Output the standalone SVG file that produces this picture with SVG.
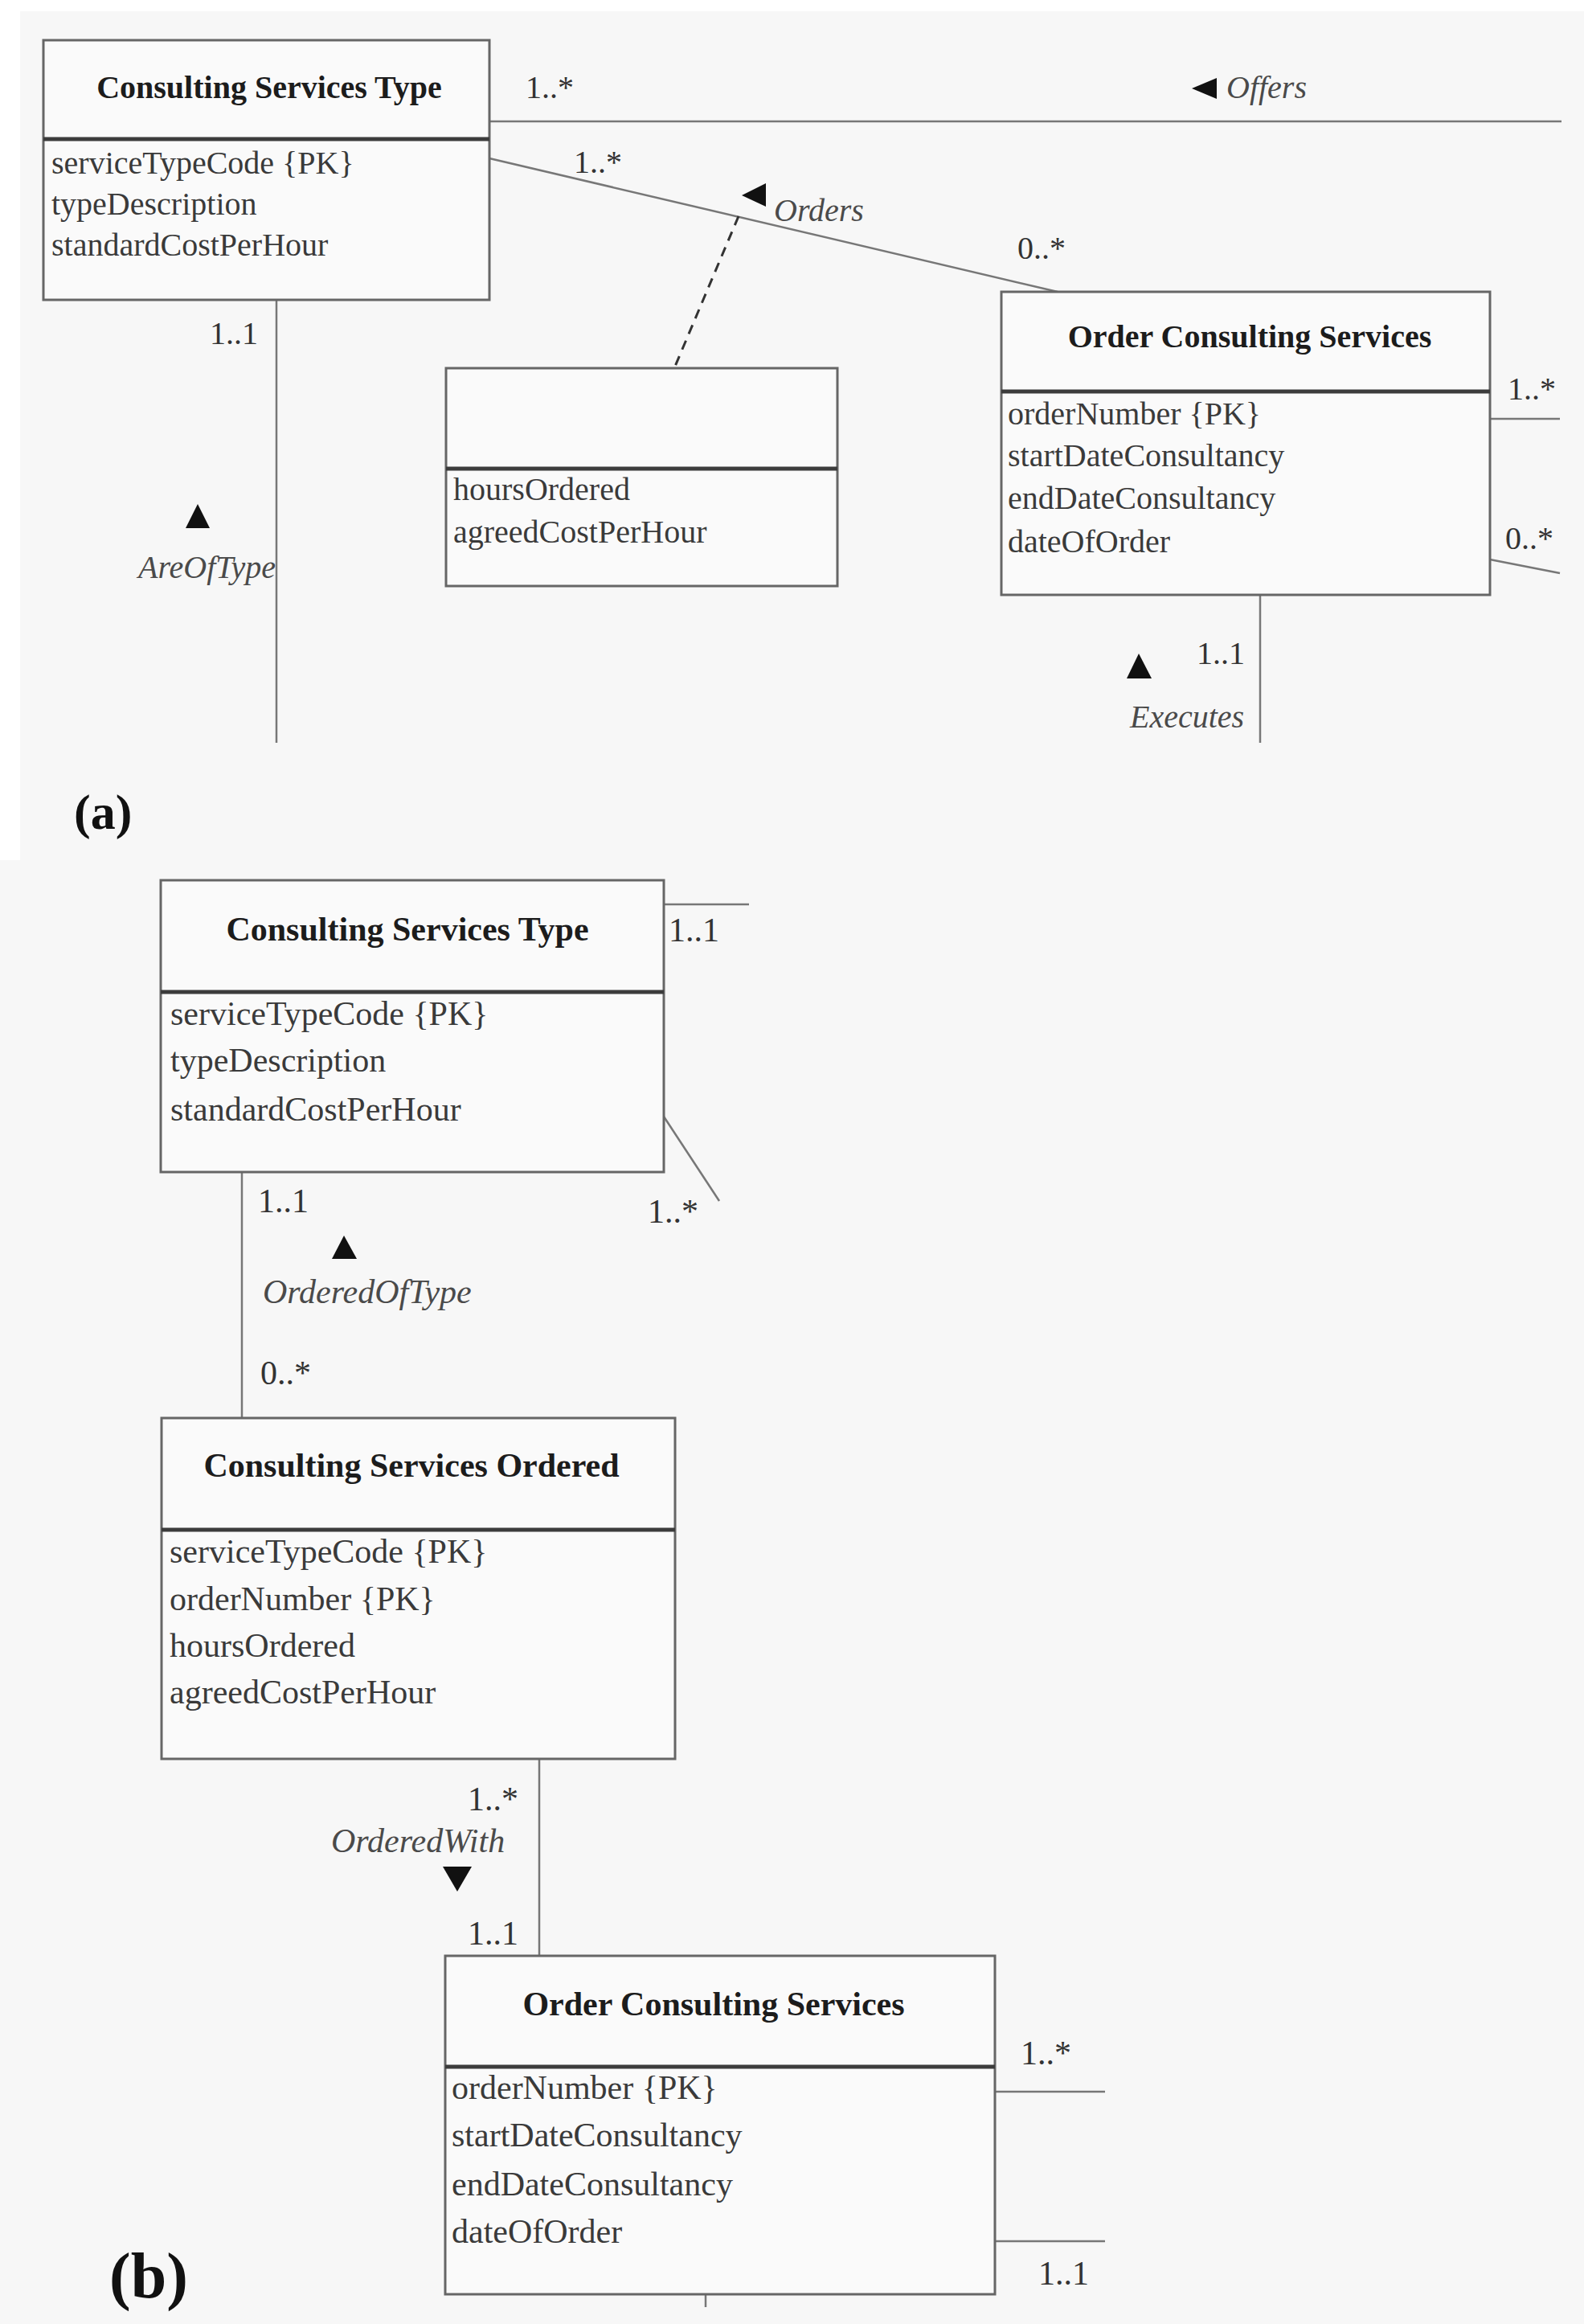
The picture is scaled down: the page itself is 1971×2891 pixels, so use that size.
<svg xmlns="http://www.w3.org/2000/svg" width="1971" height="2891" viewBox="0 0 1971 2891">
  <style>
    .box { fill: #fafafa; stroke: #666; stroke-width: 3; }
    .div { stroke: #3c3c3c; stroke-width: 5; }
    .ln { stroke: #777; stroke-width: 2.5; fill: none; }
    .dash { stroke: #333; stroke-width: 3; stroke-dasharray: 12 9; fill: none; }
    .tri { fill: #111; }
    .t { font-family: "Liberation Serif", "Times New Roman", serif; }
    .title { font-weight: bold; fill: #1c1c1c; text-anchor: middle; }
    .attr { fill: #3a3a3a; }
    .lbl { font-style: italic; fill: #4a4a4a; }
    .mul { fill: #333; }
    .a { font-size: 40px; }
    .b { font-size: 42px; }
    .cap { font-weight: bold; fill: #111; }
  </style>

  <!-- page background -->
  <rect x="0" y="0" width="1971" height="2891" fill="#f7f7f7"/>
  <rect x="0" y="0" width="1971" height="14" fill="#ffffff"/>
  <rect x="0" y="0" width="25" height="1070" fill="#ffffff"/>

  <!-- ===== (a) ===== -->
  <g id="connectors-a">
    <line class="ln" x1="609" y1="151" x2="1943" y2="151"/>
    <line class="ln" x1="609" y1="197" x2="1316" y2="363"/>
    <line class="dash" x1="919" y1="269" x2="839" y2="458"/>
    <line class="ln" x1="344" y1="373" x2="344" y2="924"/>
    <line class="ln" x1="1568" y1="740" x2="1568" y2="924"/>
    <line class="ln" x1="1854" y1="521" x2="1941" y2="521"/>
    <line class="ln" x1="1854" y1="696" x2="1941" y2="713"/>
    <polygon class="tri" points="1483,110 1514,97 1514,123"/>
    <polygon class="tri" points="923,243 953,228 953,257"/>
    <polygon class="tri" points="246,627 231,657 261,657"/>
    <polygon class="tri" points="1417,813 1402,844 1433,844"/>
    <g class="t a">
      <text class="mul" x="654" y="122">1..*</text>
      <text class="lbl" x="1526" y="122">Offers</text>
      <text class="mul" x="714" y="215">1..*</text>
      <text class="lbl" x="963" y="275">Orders</text>
      <text class="mul" x="1266" y="322">0..*</text>
      <text class="mul" x="261" y="428">1..1</text>
      <text class="lbl" x="172" y="719">AreOfType</text>
      <text class="mul" x="1876" y="497">1..*</text>
      <text class="mul" x="1873" y="683">0..*</text>
      <text class="mul" x="1489" y="826">1..1</text>
      <text class="lbl" x="1406" y="905">Executes</text>
    </g>
  </g>

  <g id="a-consulting-services-type" class="t a">
    <rect class="box" x="54" y="50" width="555" height="323"/>
    <line class="div" x1="54" y1="173" x2="609" y2="173"/>
    <text class="title" x="335" y="122">Consulting Services Type</text>
    <text class="attr" x="64" y="216">serviceTypeCode {PK}</text>
    <text class="attr" x="64" y="267">typeDescription</text>
    <text class="attr" x="64" y="318">standardCostPerHour</text>
  </g>

  <g id="a-association-class" class="t a">
    <rect class="box" x="555" y="458" width="487" height="271"/>
    <line class="div" x1="555" y1="583" x2="1042" y2="583"/>
    <text class="attr" x="564" y="622">hoursOrdered</text>
    <text class="attr" x="564" y="675">agreedCostPerHour</text>
  </g>

  <g id="a-order-consulting-services" class="t a">
    <rect class="box" x="1246" y="363" width="608" height="377"/>
    <line class="div" x1="1246" y1="487" x2="1854" y2="487"/>
    <text class="title" x="1555" y="432">Order Consulting Services</text>
    <text class="attr" x="1254" y="528">orderNumber {PK}</text>
    <text class="attr" x="1254" y="580">startDateConsultancy</text>
    <text class="attr" x="1254" y="633">endDateConsultancy</text>
    <text class="attr" x="1254" y="687">dateOfOrder</text>
  </g>

  <text class="t cap" x="92" y="1031" font-size="62">(a)</text>

  <!-- ===== (b) ===== -->
  <g id="connectors-b">
    <line class="ln" x1="826" y1="1125" x2="932" y2="1125"/>
    <line class="ln" x1="826" y1="1389" x2="895" y2="1494"/>
    <line class="ln" x1="301" y1="1458" x2="301" y2="1764"/>
    <line class="ln" x1="671" y1="2188" x2="671" y2="2433"/>
    <line class="ln" x1="1238" y1="2602" x2="1375" y2="2602"/>
    <line class="ln" x1="1238" y1="2788" x2="1375" y2="2788"/>
    <line class="ln" x1="878" y1="2854" x2="878" y2="2870"/>
    <polygon class="tri" points="428,1537 413,1566 444,1566"/>
    <polygon class="tri" points="551,2322 587,2322 569,2353"/>
    <g class="t b">
      <text class="mul" x="832" y="1171">1..1</text>
      <text class="mul" x="806" y="1521">1..*</text>
      <text class="mul" x="321" y="1508">1..1</text>
      <text class="lbl" x="327" y="1621">OrderedOfType</text>
      <text class="mul" x="324" y="1722">0..*</text>
      <text class="mul" x="582" y="2252">1..*</text>
      <text class="lbl" x="412" y="2304">OrderedWith</text>
      <text class="mul" x="582" y="2419">1..1</text>
      <text class="mul" x="1270" y="2568">1..*</text>
      <text class="mul" x="1292" y="2842">1..1</text>
    </g>
  </g>

  <g id="b-consulting-services-type" class="t b">
    <rect class="box" x="200" y="1095" width="626" height="363"/>
    <line class="div" x1="200" y1="1234" x2="826" y2="1234"/>
    <text class="title" x="507" y="1170">Consulting Services Type</text>
    <text class="attr" x="212" y="1275">serviceTypeCode {PK}</text>
    <text class="attr" x="212" y="1333">typeDescription</text>
    <text class="attr" x="212" y="1394">standardCostPerHour</text>
  </g>

  <g id="b-consulting-services-ordered" class="t b">
    <rect class="box" x="201" y="1764" width="639" height="424"/>
    <line class="div" x1="201" y1="1903" x2="840" y2="1903"/>
    <text class="title" x="512" y="1837">Consulting Services Ordered</text>
    <text class="attr" x="211" y="1944">serviceTypeCode {PK}</text>
    <text class="attr" x="211" y="2003">orderNumber {PK}</text>
    <text class="attr" x="211" y="2061">hoursOrdered</text>
    <text class="attr" x="211" y="2119">agreedCostPerHour</text>
  </g>

  <g id="b-order-consulting-services" class="t b">
    <rect class="box" x="554" y="2433" width="684" height="421"/>
    <line class="div" x1="554" y1="2571" x2="1238" y2="2571"/>
    <text class="title" x="888" y="2507">Order Consulting Services</text>
    <text class="attr" x="562" y="2611">orderNumber {PK}</text>
    <text class="attr" x="562" y="2670">startDateConsultancy</text>
    <text class="attr" x="562" y="2731">endDateConsultancy</text>
    <text class="attr" x="562" y="2790">dateOfOrder</text>
  </g>

  <text class="t cap" x="136" y="2858" font-size="80">(b)</text>
</svg>
